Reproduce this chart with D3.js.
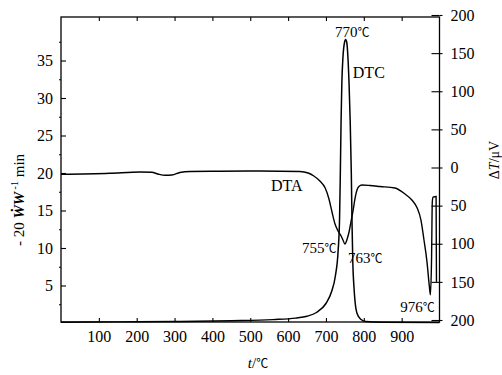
<!DOCTYPE html>
<html>
<head>
<meta charset="utf-8">
<script src="https://cdn.jsdelivr.net/npm/d3@7"></script>
<style>
  body { margin: 0; background: #fff; }
  svg { display: block; font-family: 'Liberation Serif', 'DejaVu Serif', serif; }
  .deg { font-family: 'Noto Sans CJK SC', sans-serif; font-size: 12px; }
</style>
</head>
<body>
<svg width="502" height="375"></svg>
<script>
// ---- dados (t em °C)
const dtcT = [0, 150, 300, 450, 560, 620, 650, 675, 700, 715, 725, 732, 736, 738, 740, 742, 745, 749, 752,
  755, 758, 761, 764, 767, 769, 771, 774, 777, 782, 792, 805, 850, 1000];
const dtcV = [0.1, 0.15, 0.2, 0.3, 0.45, 0.65, 0.9, 1.4, 2.6, 4.2, 6.3, 9.5, 14, 20, 27, 32, 35.5, 37.4, 37.8,
  37.4, 35.5, 32, 27, 20, 13, 8, 4.8, 2.8, 1.3, 0.5, 0.2, 0.1, 0.05];

const dtaT = [0, 129, 209, 240, 256, 275, 293, 314, 341, 420, 526, 631, 653, 668, 684, 698, 708, 716, 724, 732,
  740, 745, 750, 756, 761, 766, 772, 777, 782, 787, 795, 816, 843, 882, 909, 927, 941, 951, 959, 967, 973,
  976, 979, 981, 983, 991, 992];
const dtaV = [-8.9, -7.6, -5.9, -6.3, -8.5, -10.2, -9.8, -6.6, -5.2, -4.9, -4.6, -5.2, -7.2, -11.1, -17.7, -26.9,
  -41.3, -58.4, -74.1, -83.3, -89.8, -95.1, -100.3, -93.8, -84.6, -71.5, -55.7, -40, -29.5, -24.9, -23, -23.6,
  -24.9, -26.9, -34.8, -42.6, -53.1, -68.9, -95.1, -124, -155, -167, -120, -45, -39, -38, -150];

const xTicks = [100, 200, 300, 400, 500, 600, 700, 800, 900];
const leftTicks = [5, 10, 15, 20, 25, 30, 35];
const leftMinor = [2.5, 7.5, 12.5, 17.5, 22.5, 27.5, 32.5, 37.5];
const rightTicks = [-200, -150, -100, -50, 0, 50, 100, 150, 200];

// rótulos: texto, t, valor no eixo esquerdo
const notes = [
  { txt: '770', deg: true, t: 724, v: 38.1 },
  { txt: 'DTC', deg: false, t: 771, v: 32.7 },
  { txt: 'DTA', deg: false, t: 555, v: 17.6 },
  { txt: '755', deg: true, t: 637, v: 9.3 },
  { txt: '763', deg: true, t: 758, v: 8.0 },
  { txt: '976', deg: true, t: 896, v: 1.5 }
];

const svg = d3.select('svg');
const margens = { left: 61, right: 439.5, top: 17, bottom: 322 };

const x = d3.scaleLinear().domain([0, 1000]).range([margens.left, margens.right]);
const yL = d3.scaleLinear().domain([0, 40.8]).range([323, 17]);
const yR = d3.scaleLinear().domain([-200, 200]).range([320, 15]);

const g = svg.append('g').attr('id', 'group');

// ---- moldura
g.append('rect')
  .attr('x', margens.left).attr('y', margens.top)
  .attr('width', margens.right - margens.left).attr('height', margens.bottom - margens.top)
  .attr('fill', 'none').attr('stroke', '#000').attr('stroke-width', 1.3);

// ---- eixos
const fixAxis = sel => {
  sel.select('.domain').remove();
  sel.selectAll('line').attr('stroke', '#000').attr('stroke-width', 1.1);
  sel.selectAll('text').attr('fill', '#000').style('font-size', '16px')
    .style('font-family', "'Liberation Serif', serif");
};

g.append('g').attr('transform', `translate(0,${margens.bottom})`)
  .call(d3.axisBottom(x).tickValues(xTicks).tickSizeInner(-4).tickSizeOuter(0).tickPadding(9))
  .call(fixAxis);

g.append('g').attr('transform', `translate(0,${margens.top})`)
  .call(d3.axisTop(x).tickValues(xTicks).tickSizeInner(-4).tickSizeOuter(0).tickFormat(''))
  .call(fixAxis);

g.append('g').attr('transform', `translate(${margens.left},0)`)
  .call(d3.axisLeft(yL).tickValues(leftTicks).tickSizeInner(-5).tickSizeOuter(0).tickPadding(8))
  .call(fixAxis);

g.append('g').attr('transform', `translate(${margens.left},0)`)
  .call(d3.axisLeft(yL).tickValues(leftMinor).tickSize(2).tickFormat(''))
  .call(fixAxis);

g.append('g').attr('transform', `translate(${margens.right},0)`)
  .call(d3.axisRight(yR).tickValues(rightTicks).tickSizeInner(-8).tickSizeOuter(0).tickPadding(11)
    .tickFormat(d => Math.abs(d)))
  .call(fixAxis);

g.append('g').attr('transform', `translate(${margens.right},0)`)
  .call(d3.axisRight(yR).tickValues(rightTicks).tickSize(3).tickFormat(''))
  .call(fixAxis);

// ---- curvas
const dtc = dtcT.map((t, i) => [t, dtcV[i]]);
const dta = dtaT.map((t, i) => [t, dtaV[i]]);

const lineL = d3.line().x(d => x(d[0])).y(d => yL(d[1])).curve(d3.curveMonotoneX);
const lineR = d3.line().x(d => x(d[0])).y(d => yR(d[1])).curve(d3.curveMonotoneX);

g.append('path').datum(dtc).attr('d', lineL)
  .style('fill', 'none').style('stroke', '#000').style('stroke-width', 1.5);
g.append('path').datum(dta).attr('d', lineR)
  .style('fill', 'none').style('stroke', '#000').style('stroke-width', 1.4);

// ---- anotações
notes.forEach(n => {
  const t = g.append('text')
    .attr('x', x(n.t)).attr('y', yL(n.v))
    .style('font-size', n.deg ? '15px' : '16px');
  t.append('tspan').text(n.txt);
  if (n.deg) t.append('tspan').attr('class', 'deg').text('℃');
});

// ---- títulos dos eixos
const xt = svg.append('text')
  .attr('x', 258).attr('y', 368).attr('text-anchor', 'middle').style('font-size', '15px');
xt.append('tspan').style('font-style', 'italic').text('t');
xt.append('tspan').text('/');
xt.append('tspan').attr('class', 'deg').text('℃');

const yt = svg.append('text')
  .attr('transform', 'translate(24,200) rotate(-90)')
  .attr('text-anchor', 'middle').style('font-size', '15px');
yt.append('tspan').text('- 20 ');
yt.append('tspan').style('font-weight', 'bold').style('font-style', 'italic').text('ẆW');
yt.append('tspan').attr('dy', -6).style('font-size', '10px').text(' -1');
yt.append('tspan').attr('dy', 6).text(' min');

const rt = svg.append('text')
  .attr('transform', 'translate(499,160) rotate(-90)')
  .attr('text-anchor', 'middle').style('font-size', '14px');
rt.append('tspan').text('Δ');
rt.append('tspan').style('font-style', 'italic').text('T');
rt.append('tspan').text('/μV');
</script>
</body>
</html>
